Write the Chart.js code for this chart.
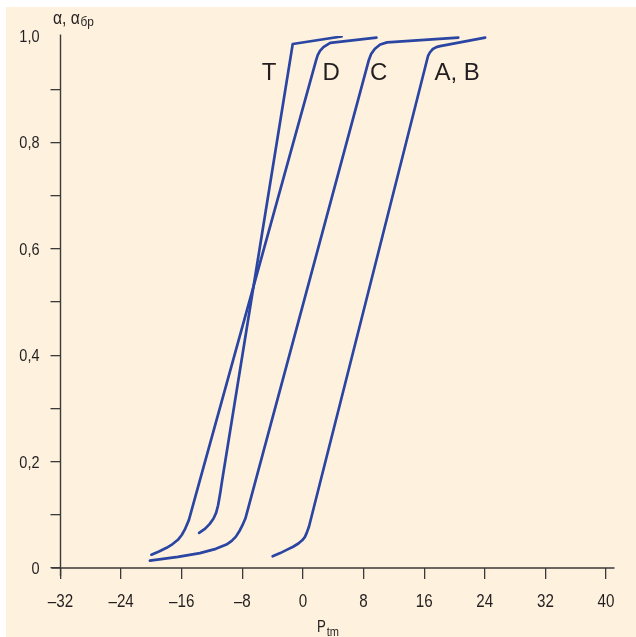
<!DOCTYPE html>
<html>
<head>
<meta charset="utf-8">
<script src="https://cdn.jsdelivr.net/npm/chart.js@4.4.0/dist/chart.umd.min.js"></script>
<style>
  html, body { margin: 0; padding: 0; background: #ffffff; }
  canvas { display: block; }
</style>
</head>
<body>
<canvas id="chart" width="636" height="637"></canvas>
<script>
// curve T
const tX = [-13.7, -12.9, -12.3, -11.8, -11.45, -11.2, -10.95, -10.65, -1.35, 5.1];
const tY = [0.066, 0.074, 0.083, 0.093, 0.104, 0.118, 0.138, 0.166, 0.985, 0.999];
// curve D
const dX = [-20.0, -19.0, -18.0, -17.2, -16.5, -16.0, -15.6, -15.06, 1.75, 1.95, 2.25, 2.7, 3.6, 9.7];
const dY = [0.025, 0.031, 0.038, 0.045, 0.053, 0.062, 0.072, 0.09, 0.955, 0.964, 0.972, 0.979, 0.987, 0.997];
// curve C
const cX = [-20.2, -16.5, -13.6, -11.5, -10.1, -9.4, -8.85, -8.4, -8.0, -7.6, 8.7, 9.0, 9.5, 10.2, 11.1, 20.5];
const cY = [0.014, 0.021, 0.028, 0.036, 0.044, 0.051, 0.059, 0.069, 0.08, 0.093, 0.955, 0.966, 0.976, 0.984, 0.988, 0.997];
// curve A, B
const abX = [-4.0, -3.0, -2.15, -1.3, -0.6, -0.1, 0.25, 0.5, 0.8, 16.5, 16.75, 17.1, 17.6, 18.1, 24.05];
const abY = [0.022, 0.028, 0.034, 0.04, 0.046, 0.052, 0.058, 0.066, 0.078, 0.962, 0.969, 0.975, 0.979, 0.981, 0.997];

const curveNames = ["T", "D", "C", "A, B"];
const labelX = [-4.47, 3.71, 9.98, 20.35];
const labelY = [0.918, 0.918, 0.918, 0.918];

const xTicks = [-32, -24, -16, -8, 0, 8, 16, 24, 32, 40];
const yTicks = [0, 0.1, 0.2, 0.3, 0.4, 0.5, 0.6, 0.7, 0.8, 0.9, 1.0];

const blue = "#2b45a3";
const ink = "#231f20";
const axisCol = "#3a3a3a";
const sans = "'Liberation Sans', Arial, sans-serif";

function pts(xs, ys) {
  return xs.map((x, i) => ({ x: x, y: ys[i] }));
}

function line(xs, ys) {
  return {
    data: pts(xs, ys),
    showLine: true,
    borderColor: blue,
    borderWidth: 2.7,
    pointRadius: 0,
    tension: 0,
    borderJoinStyle: "round",
    borderCapStyle: "round",
    fill: false
  };
}

// condensed text, like the Helvetica Condensed of the original
function narrowText(c, txt, x, y, size, align, sx) {
  c.save();
  c.font = size + "px " + sans;
  c.textBaseline = "alphabetic";
  c.textAlign = "left";
  const w = c.measureText(txt).width * sx;
  let x0 = x;
  if (align === "center") x0 = x - w / 2;
  if (align === "right") x0 = x - w;
  c.translate(x0, y);
  c.scale(sx, 1);
  c.fillText(txt, 0, 0);
  c.restore();
  return w;
}

function xLabel(v) {
  return v < 0 ? "\u2013" + Math.abs(v) : String(v);
}

function yLabel(v) {
  const k = Math.round(v * 10);
  if (k % 2) return "";
  if (k === 0) return "0";
  return (k / 10).toFixed(1).replace(".", ",");
}

const paper = {
  id: "paper",
  beforeDraw(chart) {
    const c = chart.ctx;
    c.save();
    c.fillStyle = "#ffffff";
    c.fillRect(0, 0, chart.width, chart.height);
    c.fillStyle = "#fef2de";
    c.fillRect(6, 7, chart.width - 6, chart.height - 7);
    c.restore();
  }
};

const extras = {
  id: "extras",
  afterDraw(chart) {
    const c = chart.ctx;
    const x = chart.scales.x, y = chart.scales.y;
    const left = x.getPixelForValue(-32), bottom = y.getPixelForValue(0);
    c.save();
    // axes, a bit longer than the plot
    c.strokeStyle = axisCol;
    c.lineWidth = 1.4;
    c.beginPath();
    c.moveTo(left, y.getPixelForValue(1) - 1.5);
    c.lineTo(left, bottom + 8);
    c.moveTo(left - 9, bottom);
    c.lineTo(x.getPixelForValue(40) + 8.5, bottom);
    c.stroke();

    c.fillStyle = ink;
    // tick labels
    xTicks.forEach(v => {
      narrowText(c, xLabel(v), x.getPixelForValue(v), 607, 19, "center", 0.8);
    });
    yTicks.forEach(v => {
      const s = yLabel(v);
      if (s) narrowText(c, s, 39.5, y.getPixelForValue(v) + 6, 16.5, "right", 0.88);
    });

    // curve names
    c.font = "24px " + sans;
    c.textAlign = "center";
    c.textBaseline = "alphabetic";
    curveNames.forEach((n, i) => {
      c.fillText(n, x.getPixelForValue(labelX[i]), y.getPixelForValue(labelY[i]));
    });

    // y title  α, αбр
    let w = narrowText(c, "α, α", left - 7.5, 23.5, 17.5, "left", 0.9);
    narrowText(c, "бр", left - 7.5 + w + 0.5, 25.5, 13.5, "left", 0.88);

    // x title  Ptm
    w = narrowText(c, "P", 317, 632, 17, "left", 0.78);
    narrowText(c, "tm", 317 + w + 0.8, 635.5, 13, "left", 0.85);
    c.restore();
  }
};

new Chart(document.getElementById("chart"), {
  type: "scatter",
  data: {
    datasets: [line(tX, tY), line(dX, dY), line(cX, cY), line(abX, abY)]
  },
  options: {
    responsive: false,
    animation: false,
    devicePixelRatio: 1,
    layout: { padding: { top: 36, right: 30, left: 0, bottom: 0 } },
    plugins: { legend: { display: false }, tooltip: { enabled: false } },
    scales: {
      x: {
        type: "linear",
        min: xTicks[0],
        max: xTicks[xTicks.length - 1],
        afterBuildTicks(s) { s.ticks = xTicks.map(v => ({ value: v })); },
        afterFit(s) { s.height = 69; },
        border: { display: false },
        grid: {
          drawOnChartArea: false,
          drawTicks: true,
          tickLength: 11,
          lineWidth: 1.3,
          color: axisCol
        },
        ticks: {
          padding: 9,
          color: "rgba(0,0,0,0)",
          font: { family: sans, size: 16 },
          maxRotation: 0,
          callback: v => xLabel(v)
        }
      },
      y: {
        min: 0,
        max: 1,
        afterBuildTicks(s) { s.ticks = yTicks.map(v => ({ value: v })); },
        afterFit(s) { s.width = 60.5; },
        border: { display: false },
        grid: {
          drawOnChartArea: false,
          drawTicks: true,
          tickLength: 10,
          lineWidth: 1.3,
          color: ctx => (ctx.tick && ctx.tick.value >= 1 ? "rgba(0,0,0,0)" : axisCol)
        },
        ticks: {
          padding: 11,
          color: "rgba(0,0,0,0)",
          font: { family: sans, size: 14 },
          callback: v => yLabel(v)
        }
      }
    }
  },
  plugins: [paper, extras]
});
</script>
</body>
</html>
